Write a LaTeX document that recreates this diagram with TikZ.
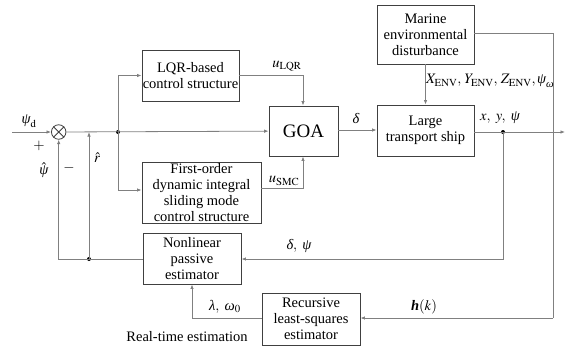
\documentclass[tikz,border=0pt]{standalone}
\usepackage{amsmath}
\usepackage{mathptmx}
\usepackage[no-math]{fontspec}
\setmainfont{Liberation Serif}
\usetikzlibrary{arrows.meta}
\newcommand{\gk}[1]{\text{\itshape #1}}
\begin{document}
\begin{tikzpicture}[x=1pt,y=-1pt,
  blk/.style={draw=black!75,line width=0.9pt,fill=white,inner sep=0pt,align=center,
    font=\fontsize{14.5}{16}\selectfont},
  ln/.style={draw=black!50,line width=0.8pt},
  arr/.style={ln,-{Latex[length=4.5pt,width=3.5pt,fill=black!80]}},
  dot/.style={circle,fill=black,inner sep=0pt,minimum size=4pt},
  lbl/.style={font=\fontsize{14.5}{16}\selectfont,inner sep=0pt}]
\useasboundingbox (0,0) rectangle (573,349);
% blocks
\node[blk,minimum width=97pt,minimum height=51pt] (lqr) at (190.5,75.5) {LQR-based\\control structure};
\node[blk,minimum width=119pt,minimum height=61pt] (fo) at (201.5,192.5) {First-order\\dynamic integral\\sliding mode\\control structure};
\node[blk,minimum width=69pt,minimum height=50pt,font=\fontsize{19}{20}\selectfont] (goa) at (303.5,131) {GOA};
\node[blk,minimum width=97pt,minimum height=59pt] (mar) at (425.5,34.5) {Marine\\environmental\\disturbance};
\node[blk,minimum width=97pt,minimum height=51pt] (ship) at (425.5,130.5) {Large\\transport ship};
\node[blk,minimum width=98pt,minimum height=51pt] (npe) at (192,258.5) {Nonlinear\\passive\\estimator};
\node[blk,minimum width=98pt,minimum height=52pt] (rls) at (311,319) {Recursive\\least-squares\\estimator};
% summing junction
\node[draw=black!75,line width=0.8pt,circle,minimum size=14.5pt,inner sep=0pt,fill=white] (sum) at (58.7,132) {};
\draw[black!75,line width=0.8pt] (sum.north west) -- (sum.south east) (sum.north east) -- (sum.south west);
% coordinates
\coordinate (in) at (12,132);
\coordinate (j1) at (118,132);
\coordinate (j1u) at (118,75.5);
\coordinate (j1d) at (118,190);
\coordinate (j2) at (89,259);
\coordinate (j2u) at (89,132);
\coordinate (cl) at (58.7,259);
\coordinate (ulqr) at (303,75.5);
\coordinate (usmc) at (303,188);
\coordinate (oj) at (503,132);
\coordinate (out) at (565,132);
\coordinate (ojd) at (503,259);
\coordinate (mr1) at (553,33);
\coordinate (mr2) at (553,318);
\coordinate (rl) at (192,318);
\node[dot] at (j1) {};
\node[dot] at (j2) {};
\node[dot] at (oj) {};
% connectors
\draw[arr] (in) -- (sum);
\draw[arr] (sum) -- (goa);
\draw[arr] (j1) -- (j1u) -- (lqr);
\draw[arr] (j1) -- (j1d) -- (fo.west |- j1d);
\draw[arr] (lqr) -- (ulqr) -- (goa.north -| ulqr);
\draw[arr] (fo.east |- usmc) -- (usmc) -- (goa.south -| usmc);
\draw[arr] (goa.east |- 0,130) -- (ship.west |- 0,130);
\draw[arr] (mar) -- (ship);
\draw[arr] (ship.east |- oj) -- (out);
\draw[arr] (oj) -- (ojd) -- (npe.east |- ojd);
\draw[arr] (npe.west |- cl) -- (cl) -- (sum);
\draw[arr] (j2) -- (j2u);
\draw[ln] (mar.east |- mr1) -- (mr1) -- (mr2);
\draw[arr] (mr2) -- (rls.east |- mr2);
\draw[arr] (rls.west |- rl) -- (rl) -- (npe.south);
% labels
\node[lbl] at (29,121) {$\gk{ψ}_{\mathrm{d}}$};
\node[lbl] at (39,146) {$+$};
\node[lbl] at (44,170) {$\hat{\gk{ψ}}$};
\node[lbl] at (69,168) {$-$};
\node[lbl] at (97,158) {$\hat{r}$};
\node[lbl] at (287,66) {$u_{\mathrm{LQR}}$};
\node[lbl] at (284,181) {$u_{\mathrm{SMC}}$};
\node[lbl] at (356,118) {$\gk{δ}$};
\node[lbl,anchor=west] at (480,118) {$x,\ y,\ \gk{ψ}$};
\node[lbl,anchor=west] at (426,81) {$X_{\mathrm{ENV}},\,Y_{\mathrm{ENV}},\,Z_{\mathrm{ENV}},\gk{ψ}_{\gk{ω}}$};
\node[lbl] at (299,246) {$\gk{δ},\ \gk{ψ}$};
\node[lbl] at (225,307) {$\gk{λ},\ \gk{ω}_0$};
\node[lbl] at (424,307) {\textbf{\textit{h}}$(k)$};
\node[lbl] at (187,337) {Real-time estimation};
\end{tikzpicture}
\end{document}
